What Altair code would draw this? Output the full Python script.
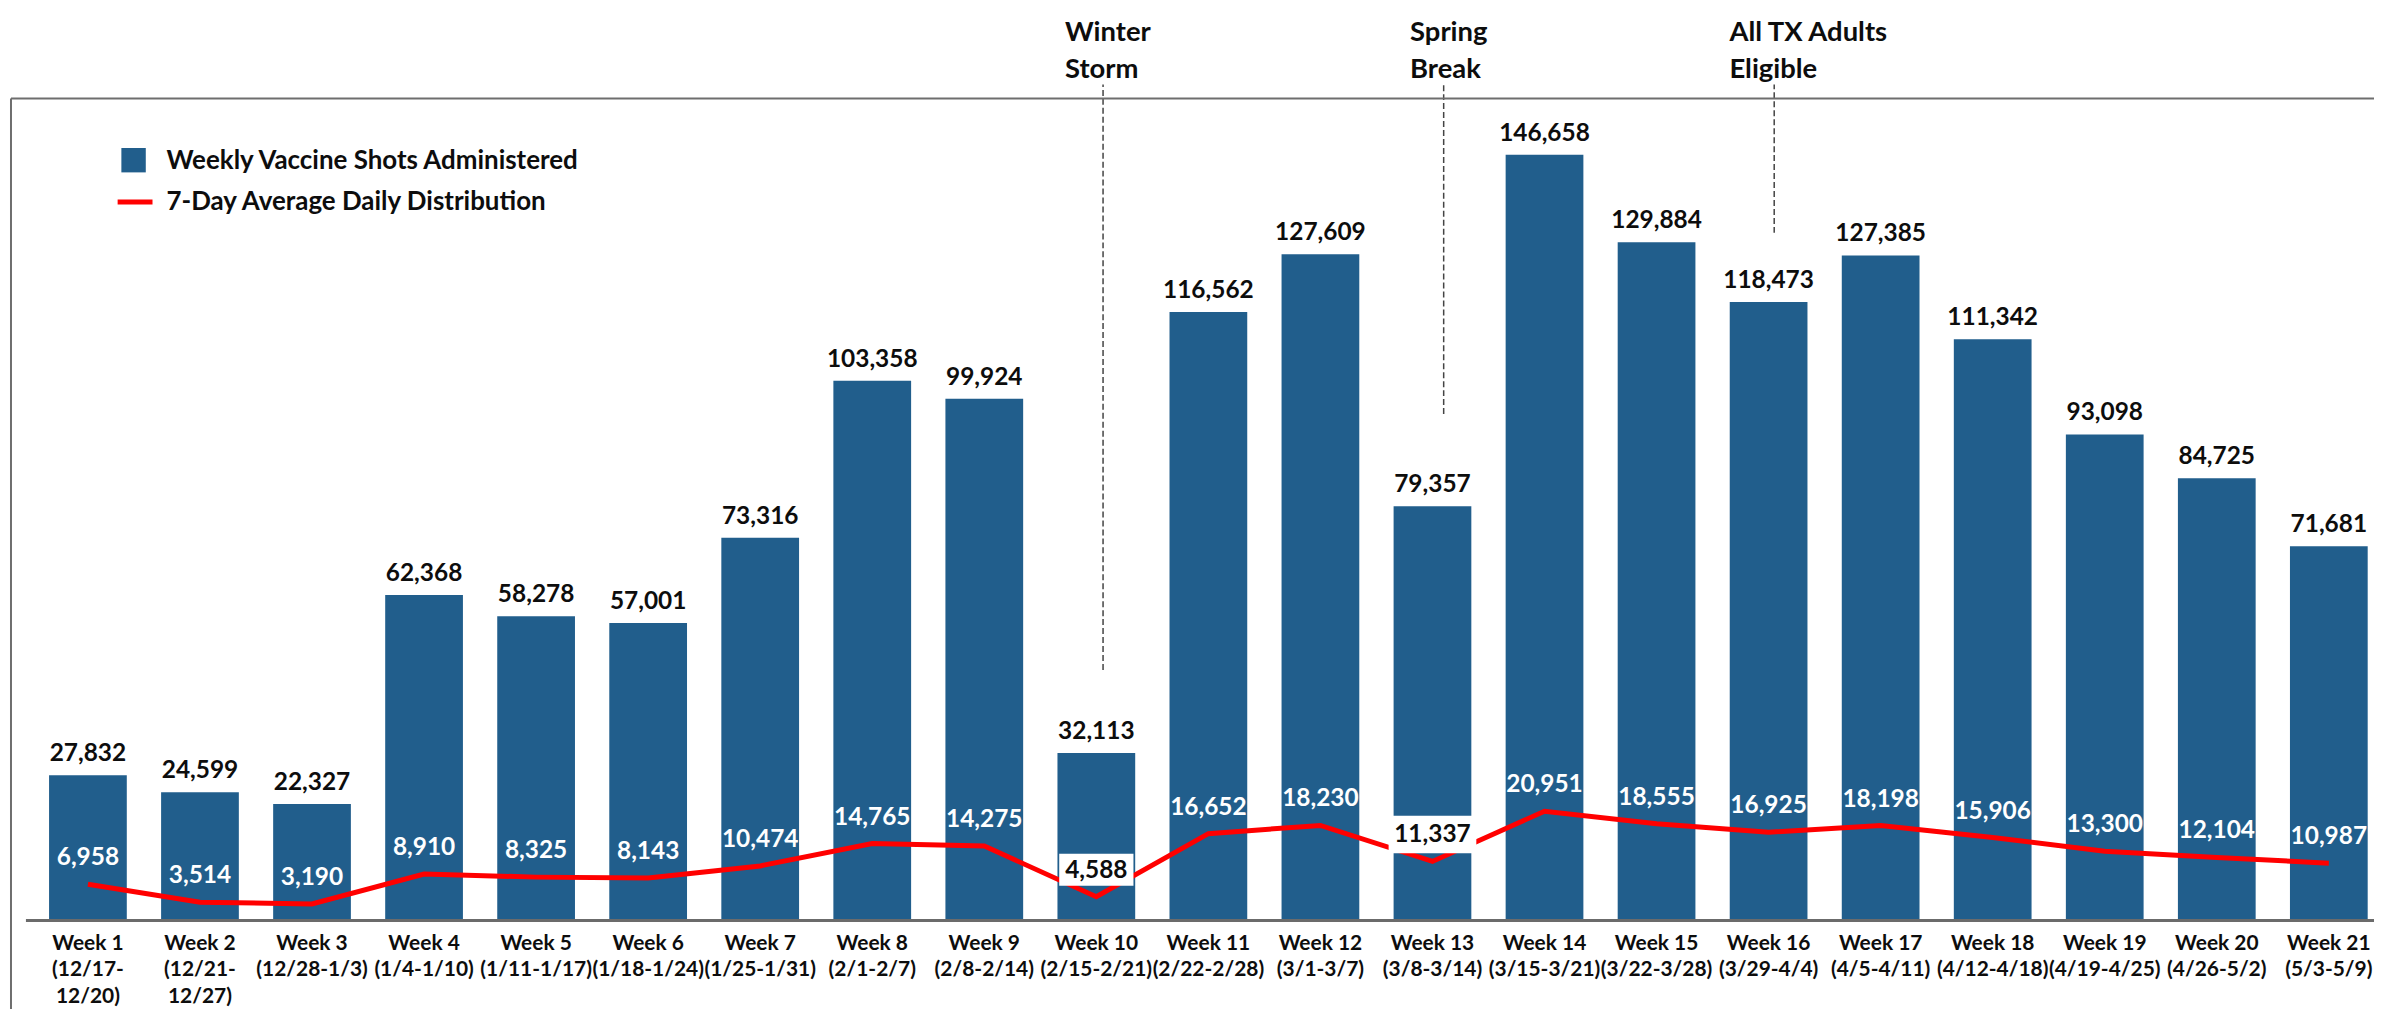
import altair as alt
import pandas as pd

# ---------------- data ----------------
weeks = list(range(1, 22))
week_labels = [
    "Week 1\n(12/17-\n12/20)", "Week 2\n(12/21-\n12/27)", "Week 3\n(12/28-1/3)",
    "Week 4\n(1/4-1/10)", "Week 5\n(1/11-1/17)", "Week 6\n(1/18-1/24)",
    "Week 7\n(1/25-1/31)", "Week 8\n(2/1-2/7)", "Week 9\n(2/8-2/14)",
    "Week 10\n(2/15-2/21)", "Week 11\n(2/22-2/28)", "Week 12\n(3/1-3/7)",
    "Week 13\n(3/8-3/14)", "Week 14\n(3/15-3/21)", "Week 15\n(3/22-3/28)",
    "Week 16\n(3/29-4/4)", "Week 17\n(4/5-4/11)", "Week 18\n(4/12-4/18)",
    "Week 19\n(4/19-4/25)", "Week 20\n(4/26-5/2)", "Week 21\n(5/3-5/9)",
]
shots = [27832, 24599, 22327, 62368, 58278, 57001, 73316, 103358, 99924, 32113,
         116562, 127609, 79357, 146658, 129884, 118473, 127385, 111342, 93098,
         84725, 71681]
avg_daily = [6958, 3514, 3190, 8910, 8325, 8143, 10474, 14765, 14275, 4588,
             16652, 18230, 11337, 20951, 18555, 16925, 18198, 15906, 13300,
             12104, 10987]
boxed_weeks = [10, 13]

event_names = ["Winter\nStorm", "Spring\nBreak", "All TX Adults\nEligible"]
event_line_x = [10.06, 13.10, 16.05]
event_line_end = [48000, 97000, 131700]
event_text_x = [9.72, 12.80, 15.65]

legend_names = ["Weekly Vaccine Shots Administered", "7-Day Average Daily Distribution"]

# ---------------- style ----------------
BLUE = "#215E8C"
RED = "#FF0000"
INK = "#0d0d0d"
FONT = "Lato"
W, H = 2371, 825

df = pd.DataFrame({"week": weeks, "label": week_labels, "shots": shots, "avg": avg_daily})
df["boxed"] = df["week"].isin(boxed_weeks)
df["avg_txt"] = df["avg"].map(lambda v: f"{v:,}")
df["box_size"] = (df["avg_txt"].str.len() * 13.5 + 7) ** 2

ev = pd.DataFrame({"name": event_names, "lx": event_line_x, "end": event_line_end,
                   "tx": event_text_x})
leg = pd.DataFrame({"name": legend_names, "i": [0, 1]})

xs = alt.Scale(domain=[0.3578, 21.3587], nice=False, zero=False)
ys = alt.Scale(domain=[0, 157450], nice=False, zero=True)


def X(f):
    return alt.X(f, scale=xs, axis=None)


def Y(f):
    return alt.Y(f, scale=ys, axis=None)


base = alt.Chart(df)

bars = base.mark_bar(size=78, color=BLUE).encode(x=X("week:Q"), y=Y("shots:Q"))

bar_labels = base.mark_text(font=FONT, fontSize=24.5, fontWeight="bold", color=INK,
                            baseline="middle", dy=-21).encode(
    x=X("week:Q"), y=Y("shots:Q"), text=alt.Text("shots:Q", format=","))

line = base.mark_line(color=RED, strokeWidth=5).encode(x=X("week:Q"), y=Y("avg:Q"))

boxes = base.transform_filter("datum.boxed").mark_point(
    shape="M-1,-0.43L1,-0.43L1,0.43L-1,0.43Z", filled=True, color="white",
    opacity=1, strokeWidth=0, yOffset=-27).encode(
    x=X("week:Q"), y=Y("avg:Q"), size=alt.Size("box_size:Q", scale=None))

line_labels = base.mark_text(font=FONT, fontSize=24.5, fontWeight="bold",
                             baseline="middle", dy=-26).encode(
    x=X("week:Q"), y=Y("avg:Q"), text="avg_txt:N",
    color=alt.condition("datum.boxed", alt.value(INK), alt.value("white")))

x_labels = base.mark_text(font=FONT, fontSize=21, fontWeight="bold", color=INK,
                          baseline="top", lineBreak="\n", lineHeight=27).encode(
    x=X("week:Q"), y=alt.value(H + 12), text="label:N")

ev_base = alt.Chart(ev)
ev_lines = ev_base.mark_rule(color="#444444", strokeDash=[6, 3], strokeWidth=1.5).encode(
    x=X("lx:Q"), y=Y("end:Q"), y2=alt.value(-14))
ev_text = ev_base.mark_text(font=FONT, fontSize=27.5, fontWeight="bold", color=INK,
                            align="left", baseline="top", lineBreak="\n",
                            lineHeight=38).encode(
    x=X("tx:Q"), y=alt.value(-80), text="name:N")

one = alt.Chart(leg).transform_filter("datum.i == 0")
two = alt.Chart(leg).transform_filter("datum.i == 1")

frame_top = one.mark_rule(color="#6e6e6e", strokeWidth=2).encode(
    x=alt.value(0), x2=alt.value(W), y=alt.value(0))
frame_left = one.mark_rule(color="#6e6e6e", strokeWidth=2).encode(
    x=alt.value(0), y=alt.value(0), y2=alt.value(H + 90))
baseline = one.mark_rule(color="#6b6b6b", strokeWidth=3).encode(
    x=alt.value(15), x2=alt.value(W), y=alt.value(H))

leg_sq = one.mark_square(size=600, color=BLUE, opacity=1).encode(
    x=alt.value(123), y=alt.value(62))
leg_ln = two.mark_rule(color=RED, strokeWidth=5).encode(
    x=alt.value(107), x2=alt.value(142), y=alt.value(104))
leg_t1 = one.mark_text(font=FONT, fontSize=26, fontWeight="bold", color=INK,
                       align="left", baseline="middle").encode(
    x=alt.value(156), y=alt.value(63), text="name:N")
leg_t2 = two.mark_text(font=FONT, fontSize=26, fontWeight="bold", color=INK,
                       align="left", baseline="middle").encode(
    x=alt.value(156), y=alt.value(104), text="name:N")

chart = alt.layer(
    bars, line, boxes, bar_labels, line_labels, x_labels,
    ev_lines, ev_text, frame_top, frame_left, baseline,
    leg_sq, leg_ln, leg_t1, leg_t2,
).properties(
    width=W, height=H,
    padding={"left": 3, "top": 89, "right": 0, "bottom": 87},
    autosize=alt.AutoSizeParams(type="none"),
).configure_view(stroke=None)

chart.save("out.html", embed_options={"renderer": "svg", "actions": False})
